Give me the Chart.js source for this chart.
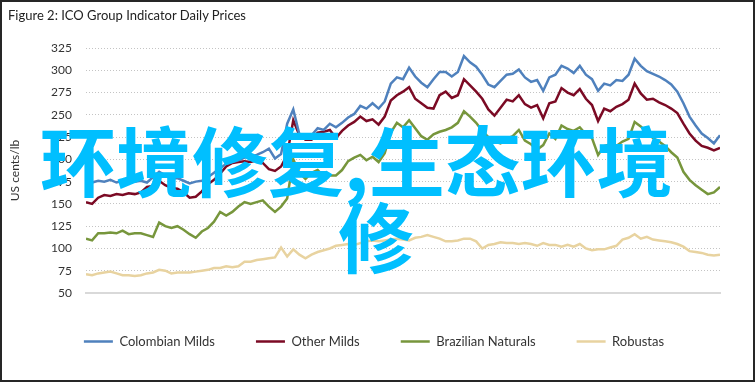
<!DOCTYPE html>
<html><head><meta charset="utf-8">
<script src="https://cdn.jsdelivr.net/npm/chart.js@4.4.1/dist/chart.umd.min.js"></script>
<style>
html,body{margin:0;padding:0;background:#fff;}
#frame{position:relative;width:755px;height:382px;box-sizing:border-box;border:2px solid #262626;overflow:hidden;background:#fff;}
#chart{position:absolute;left:-2px;top:-2px;}
#title{position:absolute;left:6px;top:5px;font:13px Lato,sans-serif;color:#222;white-space:nowrap;}
.wm{position:absolute;font-family:"Noto Sans CJK SC";font-weight:700;font-size:76px;line-height:76px;color:#00bfff;white-space:nowrap;z-index:5;}
</style></head>
<body>
<div id="frame">
<canvas id="chart" width="755" height="382"></canvas>
<div id="title">Figure 2: ICO Group Indicator Daily Prices</div>
<div class="wm" style="left:38px;top:118px;">环境修复,生态环境</div>
<div class="wm" style="left:336px;top:194px;">修</div>
</div>
<script>
const tickLabels = ['Dec-20','Mar-21','Jun-21','Sep-21','Dec-21','Mar-22','Jun-22','Sep-22'];
const tickWeeks = [0,13,26,39,52,65,78,91];
const seriesNames = ['Colombian Milds','Other Milds','Brazilian Naturals','Robustas'];

const colombianMilds = [172,174,176,175,177,174,176,178,175,176,
174,180,186,182,178,179,176,173,175,176,
180,185,190,195,197,199,202,203,205,208,
212,201,206,240,256,228,226,227,235,233,
240,236,241,247,251,260,257,263,257,265,
285,292,290,303,293,286,281,290,298,298,
293,298,316,309,304,295,284,281,288,295,
296,301,292,287,289,277,292,295,305,302,
297,305,295,290,277,285,283,289,288,295,
313,305,299,296,293,289,284,276,263,248,
238,229,224,218,227];

const otherMilds = [152,150,157,160,159,161,160,162,161,163,
169,170,176,171,168,167,163,157,158,164,
172,177,184,192,196,197,198,197,199,196,
189,187,192,205,244,227,222,222,230,231,
233,224,232,238,242,248,243,245,239,248,
266,272,276,281,268,263,258,257,272,276,
269,272,290,283,276,268,256,249,258,267,
265,272,262,258,261,246,263,265,280,275,
272,279,268,261,243,257,254,259,262,267,
285,274,267,268,264,261,257,252,240,229,
221,215,213,210,213];

const brazilianNaturals = [111,109,117,117,118,117,120,116,117,117,
115,113,129,125,123,125,121,116,112,119,
123,130,141,137,141,147,152,150,152,154,
147,141,147,156,200,185,178,185,188,181,
182,182,188,198,202,205,199,203,197,207,
230,241,236,244,235,226,222,228,231,233,
236,241,254,248,241,232,225,220,218,223,
226,233,221,217,211,216,229,223,238,234,
232,236,228,224,205,215,217,215,220,223,
242,237,230,224,220,215,208,202,186,177,
171,166,161,163,169];

const robustas = [71,70,72,73,74,72,70,70,69,70,
72,73,76,75,72,73,73,73,74,75,
76,78,78,80,79,80,85,85,87,88,
89,90,101,91,99,93,89,93,96,98,
100,103,104,105,104,106,108,109,108,109,
110,111,110,109,112,113,115,113,111,108,
108,109,111,111,108,100,104,105,107,106,
106,105,106,105,103,106,104,104,102,104,
102,105,100,98,99,99,101,103,110,112,
116,111,113,110,109,108,107,105,102,97,
96,95,93,92,93];

const seriesValues = [colombianMilds, otherMilds, brazilianNaturals, robustas];
const seriesColors = ['#4f81bd','#7b0a24','#77963c','#e8d3a0'];

const datasets = seriesValues.map((vals, k) => ({
  label: seriesNames[k],
  data: vals.map((v, i) => ({x: i, y: v})),
  borderColor: seriesColors[k],
  backgroundColor: seriesColors[k],
  borderWidth: 2.5,
  pointRadius: 0,
  pointHoverRadius: 0,
  tension: 0
}));

new Chart(document.getElementById('chart'), {
  type: 'line',
  data: {datasets},
  options: {
    responsive: false,
    animation: false,
    elements: {point: {radius: 0, hoverRadius: 0}},
    layout: {padding: {left: 28, right: 35, top: 48, bottom: 24}},
    scales: {
      x: {
        type: 'linear', min: 0, max: colombianMilds.length - 1,
        afterBuildTicks: s => { s.ticks = tickWeeks.map(v => ({value: v})); },
        afterFit: s => { s.height = 1; },
        grid: {display: false, drawTicks: false},
        border: {display: true, color: '#d9d9d9', width: 2},
        ticks: {
          autoSkip: false, maxRotation: 0, padding: 10,
          font: {family: 'Lato', size: 13}, color: '#333',
          callback: v => { const k = tickWeeks.indexOf(v); return k >= 0 ? tickLabels[k] : ''; }
        }
      },
      y: {
        min: 50, max: 325,
        afterFit: s => { s.width = 58; },
        ticks: {stepSize: 25, padding: 14, font: {family: 'Lato', size: 12}, color: '#333'},
        grid: {color: '#c4c4c4', drawTicks: false, lineWidth: 1},
        border: {display: false, dash: [1, 2]},
        title: {display: true, text: 'US cents/lb', font: {family: 'Lato', size: 12}, color: '#333', padding: {top: -20, bottom: 0}}
      }
    },
    plugins: {
      legend: {
        position: 'bottom',
        labels: {usePointStyle: true, pointStyle: 'line', pointStyleWidth: 29, padding: 41,
                 font: {family: 'Lato', size: 13}, color: '#333'}
      },
      tooltip: {enabled: false}
    }
  }
});
</script>
</body></html>
